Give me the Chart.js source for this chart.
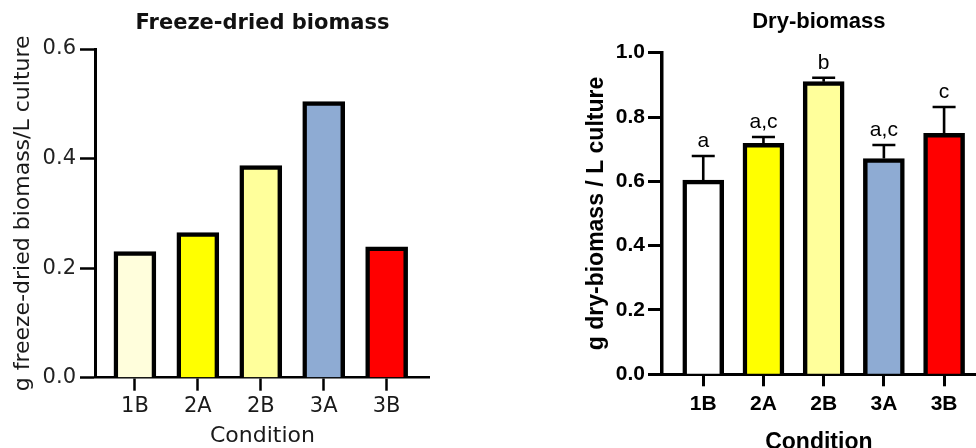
<!DOCTYPE html>
<html><head><meta charset="utf-8">
<script src="https://cdn.jsdelivr.net/npm/chart.js@4.4.1/dist/chart.umd.min.js"></script>
<style>
html,body{margin:0;padding:0;background:#fff;width:976px;height:448px;overflow:hidden;position:relative}
canvas{position:absolute;top:0}
#c1{left:0}
#c2{left:570px}
</style></head><body>
<canvas id="c1" width="430" height="448"></canvas>
<canvas id="c2" width="406" height="448"></canvas>
<script>
// ---- data ----
const categories = ['1B', '2A', '2B', '3A', '3B'];
const freezeDried = [0.230, 0.265, 0.387, 0.504, 0.239];
const dryBiomass = [0.604, 0.718, 0.910, 0.671, 0.749];
const dryBiomassSD = [0.075, 0.020, 0.012, 0.042, 0.082];
const sigLetters = ['a', 'a,c', 'b', 'a,c', 'c'];
const freezeYTicks = [0, 0.2, 0.4, 0.6];
const dryYTicks = [0, 0.2, 0.4, 0.6, 0.8, 1.0];
const freezeColors = ['#FFFEDC', '#FFFF00', '#FFFF9B', '#8EABD3', '#FF0000'];
const dryColors = ['#FFFFFF', '#FFFF00', '#FFFF9B', '#8EABD3', '#FF0000'];

Chart.defaults.devicePixelRatio = 1;
Chart.defaults.animation = false;

const errPlugin = {
  id: 'errbars',
  afterDatasetsDraw(chart) {
    const ctx = chart.ctx, y = chart.scales.y;
    const bars = chart.getDatasetMeta(0).data;
    ctx.save();
    ctx.strokeStyle = '#000';
    ctx.lineWidth = 2.6;
    ctx.fillStyle = '#000';
    ctx.font = '21px "Liberation Sans", Arial, sans-serif';
    ctx.textAlign = 'center';
    ctx.textBaseline = 'alphabetic';
    dryBiomass.forEach((v, i) => {
      const px = bars[i].x;
      const y0 = y.getPixelForValue(v);
      const y1 = y.getPixelForValue(v + dryBiomassSD[i]);
      ctx.beginPath();
      ctx.moveTo(px, y0); ctx.lineTo(px, y1);
      ctx.moveTo(px - 11.5, y1); ctx.lineTo(px + 11.5, y1);
      ctx.stroke();
      ctx.fillText(sigLetters[i], px, y1 - 9);
    });
    ctx.restore();
  }
};

const F1 = 'DejaVu Sans';
new Chart(document.getElementById('c1'), {
  type: 'bar',
  data: {
    datasets: [{
      data: freezeDried.map((v, i) => ({x: i, y: v})),
      backgroundColor: freezeColors,
      borderColor: '#000',
      borderWidth: 4.5,
      barThickness: 42
    }]
  },
  options: {
    responsive: false,
    layout: {padding: 0},
    plugins: {
      legend: {display: false},
      tooltip: {enabled: false},
      title: {display: true, text: 'Freeze-dried biomass', color: '#111', fullSize: false,
        font: {family: F1, size: 21, weight: 'bold', lineHeight: 1}, padding: {top: 13, bottom: 15}}
    },
    scales: {
      x: {
        type: 'linear', min: -0.634, max: 4.689, offset: false,
        afterBuildTicks(s) { s.ticks = categories.map((c, i) => ({value: i})); },
        afterFit(s) { s.height = 70.3; },
        ticks: {callback: (v) => categories[v], autoSkip: false, maxRotation: 0, color: '#1a1a1a',
          font: {family: F1, size: 21, lineHeight: 1}, padding: 5.3},
        grid: {drawOnChartArea: false, offset: false, tickLength: 13, tickWidth: 2.5, tickColor: '#000'},
        border: {color: '#000', width: 2.5},
        title: {display: true, text: 'Condition', color: '#1a1a1a',
          font: {family: F1, size: 22, lineHeight: 1}, padding: {top: 0, bottom: 1}}
      },
      y: {
        min: 0, max: 0.6,
        afterBuildTicks(s) { s.ticks = freezeYTicks.map(v => ({value: v})); },
        afterFit(s) { s.width = 95; },
        ticks: {callback: (v) => v.toFixed(1), color: '#222',
          font: {family: F1, size: 21, lineHeight: 1}, padding: 4},
        grid: {drawOnChartArea: false, tickLength: 15, tickWidth: 2.5, tickColor: '#000'},
        border: {color: '#000', width: 3},
        title: {display: true, text: 'g freeze-dried biomass/L culture', color: '#1a1a1a',
          font: {family: F1, size: 22, lineHeight: 1}, padding: {top: 12, bottom: 0}}
      }
    }
  }
});

const F2 = '"Liberation Sans", Arial, sans-serif';
new Chart(document.getElementById('c2'), {
  type: 'bar',
  data: {
    datasets: [{
      data: dryBiomass.map((v, i) => ({x: i, y: v})),
      backgroundColor: dryColors,
      borderColor: '#000',
      borderWidth: 4.5,
      barThickness: 41
    }]
  },
  options: {
    responsive: false,
    layout: {padding: 0},
    plugins: {
      legend: {display: false},
      tooltip: {enabled: false},
      title: {display: true, text: 'Dry-biomass', color: '#000', fullSize: false,
        font: {family: F2, size: 22, weight: 'bold', lineHeight: 1}, padding: {top: 11, bottom: 19.7}}
    },
    scales: {
      x: {
        type: 'linear', min: -0.69, max: 4.53, offset: false,
        afterBuildTicks(s) { s.ticks = categories.map((c, i) => ({value: i})); },
        afterFit(s) { s.height = 73.7; },
        ticks: {callback: (v) => categories[v], autoSkip: false, maxRotation: 0, color: '#000',
          font: {family: F2, size: 21, weight: 'bold', lineHeight: 1}, padding: 7.7},
        grid: {drawOnChartArea: false, offset: false, tickLength: 12, tickWidth: 3, tickColor: '#000'},
        border: {color: '#000', width: 3},
        title: {display: true, text: 'Condition', color: '#000',
          font: {family: F2, size: 23, weight: 'bold', lineHeight: 1}, padding: {top: 0, bottom: -6.5}}
      },
      y: {
        min: 0, max: 1.0,
        afterBuildTicks(s) { s.ticks = dryYTicks.map(v => ({value: v})); },
        afterFit(s) { s.width = 91.7; },
        ticks: {callback: (v) => v.toFixed(1), color: '#000',
          font: {family: F2, size: 21, weight: 'bold', lineHeight: 1}, padding: 3},
        grid: {drawOnChartArea: false, tickLength: 13.7, tickWidth: 3, tickColor: '#000'},
        border: {color: '#000', width: 3.5},
        title: {display: true, text: 'g dry-biomass / L culture', color: '#000',
          font: {family: F2, size: 23, weight: 'bold', lineHeight: 1}, padding: {top: 15.2, bottom: 0}}
      }
    }
  },
  plugins: [errPlugin]
});
</script>
</body></html>
